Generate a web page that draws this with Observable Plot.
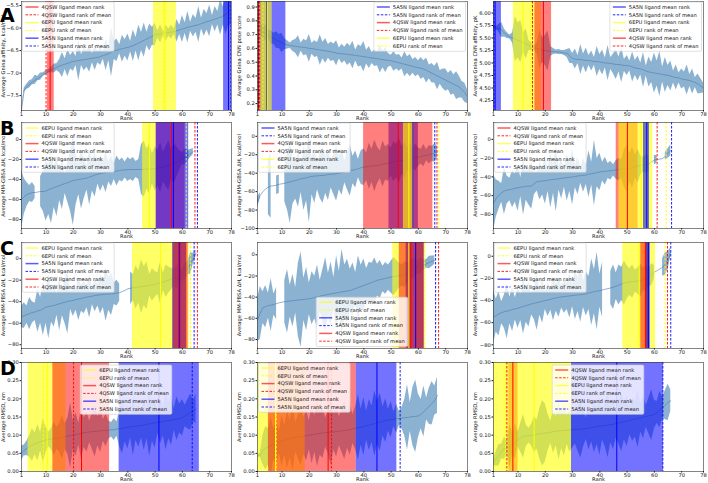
<!DOCTYPE html>
<html>
<head>
<meta charset="utf-8">
<script src="https://cdn.jsdelivr.net/npm/d3@7"></script>
<script src="https://cdn.jsdelivr.net/npm/@observablehq/plot@0.6"></script>
<style>
  body { margin: 0; background: #fff; }
  #fig { position: relative; width: 708px; height: 483px; overflow: hidden; background: #fff; }
  .panel { position: absolute; }
  #overlay { position: absolute; left: 0; top: 0; pointer-events: none; }
</style>
</head>
<body>
<div id="fig"></div>
<script>
// Rank axis shared by every panel
const ranks = d3.range(1, 79);
const rankTicks = [1, 10, 20, 30, 40, 50, 60, 70, 78];
const ligandColor = {"4QSW": "red", "6EPU": "yellow", "5A5N": "blue"};
const ligandAlpha = {"4QSW": 0.5, "6EPU": 0.6, "5A5N": 0.55};

// ---- Row A: Gnina scores ----
const meanA1 = [-7.82,-7.38,-7.30,-7.25,-7.20,-7.15,-7.12,-7.08,-7.03,-6.99,-6.96,-6.93,-6.90,-6.87,-6.84,-6.82,-6.80,-6.78,-6.76,-6.74,-6.73,-6.72,-6.71,-6.70,-6.69,-6.68,-6.67,-6.66,-6.65,-6.63,-6.61,-6.59,-6.57,-6.53,-6.50,-6.49,-6.47,-6.46,-6.44,-6.43,-6.41,-6.39,-6.36,-6.33,-6.30,-6.27,-6.24,-6.21,-6.18,-6.15,-6.14,-6.13,-6.12,-6.11,-6.10,-6.09,-6.08,-6.06,-6.04,-6.02,-6.00,-5.98,-5.97,-5.95,-5.94,-5.92,-5.90,-5.88,-5.86,-5.84,-5.82,-5.80,-5.78,-5.76,-5.73,-5.69,-5.64,-5.58];
const sdA1 = [0.02,0.05,0.06,0.08,0.06,0.10,0.05,0.08,0.04,0.05,0.04,0.06,0.10,0.08,0.15,0.28,0.12,0.30,0.15,0.22,0.10,0.45,0.12,0.25,0.18,0.30,0.10,0.28,0.12,0.20,0.08,0.35,0.15,0.55,0.20,0.25,0.10,0.30,0.18,0.30,0.12,0.35,0.15,0.40,0.20,0.38,0.15,0.30,0.20,0.25,0.08,0.20,0.05,0.18,0.08,0.15,0.06,0.25,0.10,0.30,0.12,0.35,0.10,0.25,0.15,0.40,0.12,0.30,0.18,0.35,0.10,0.28,0.15,0.40,0.20,0.45,0.30,0.35];
const meanA2 = [0.78,0.74,0.72,0.71,0.70,0.68,0.67,0.66,0.65,0.64,0.63,0.625,0.62,0.618,0.615,0.612,0.61,0.607,0.604,0.60,0.598,0.595,0.592,0.588,0.585,0.582,0.579,0.576,0.572,0.565,0.563,0.561,0.559,0.557,0.555,0.552,0.549,0.546,0.543,0.54,0.537,0.534,0.531,0.528,0.525,0.522,0.519,0.516,0.513,0.51,0.505,0.50,0.495,0.49,0.485,0.48,0.475,0.47,0.465,0.46,0.455,0.45,0.44,0.43,0.42,0.41,0.40,0.39,0.38,0.37,0.36,0.35,0.34,0.33,0.32,0.30,0.28,0.25];
const sdA2 = [0.06,0.05,0.04,0.06,0.03,0.05,0.04,0.06,0.05,0.07,0.04,0.03,0.02,0.04,0.05,0.08,0.03,0.06,0.05,0.10,0.04,0.06,0.05,0.11,0.06,0.09,0.05,0.07,0.06,0.09,0.04,0.07,0.05,0.08,0.06,0.10,0.04,0.08,0.07,0.11,0.05,0.08,0.04,0.06,0.05,0.10,0.06,0.09,0.05,0.04,0.07,0.05,0.06,0.04,0.09,0.06,0.08,0.05,0.07,0.05,0.08,0.06,0.09,0.05,0.07,0.06,0.10,0.05,0.07,0.08,0.06,0.09,0.07,0.10,0.08,0.06,0.07,0.05];
const meanA3 = [5.71,5.70,5.69,5.66,5.60,5.55,5.52,5.50,5.48,5.45,5.43,5.41,5.38,5.35,5.32,5.30,5.29,5.27,5.26,5.25,5.24,5.23,5.23,5.22,5.22,5.21,5.20,5.19,5.14,5.09,5.08,5.07,5.07,5.06,5.05,5.05,5.04,5.03,5.03,5.02,5.01,5.00,5.00,4.99,4.98,4.97,4.97,4.96,4.95,4.95,4.94,4.92,4.90,4.89,4.88,4.86,4.84,4.82,4.81,4.80,4.79,4.78,4.77,4.76,4.75,4.74,4.72,4.71,4.70,4.68,4.67,4.66,4.65,4.63,4.61,4.58,4.54,4.50];
const sdA3 = [0.05,0.03,0.08,0.15,0.08,0.06,0.04,0.10,0.45,0.35,0.42,0.20,0.30,0.10,0.08,0.05,0.10,0.38,0.25,0.30,0.40,0.10,0.06,0.04,0.05,0.04,0.05,0.08,0.15,0.10,0.20,0.08,0.30,0.12,0.25,0.10,0.20,0.08,0.30,0.15,0.25,0.10,0.35,0.12,0.20,0.30,0.15,0.35,0.12,0.20,0.10,0.30,0.15,0.25,0.12,0.35,0.10,0.30,0.20,0.40,0.25,0.45,0.15,0.35,0.20,0.30,0.12,0.25,0.10,0.20,0.15,0.30,0.12,0.25,0.10,0.20,0.15,0.10];

// ---- Row B: MM-GBSA enthalpy ----
const meanB1 = [-60,-57,-55,-54,-53,-53,-52.5,-52,-52,-51.5,-50,-49,-48,-47,-46,-45,-44,-43,-42,-41,-40.5,-40,-39.5,-39,-38.5,-37.5,-36.5,-35.5,-34.5,-34,-33.5,-33,-32.5,-32,-32,-31.5,-31,-30.5,-30.5,-30,-30,-30,-30,-30,-30,-29.8,-29.6,-29.5,-29.4,-29.2,-28.5,-28,-27.5,-27,-26,-25,-24,-22.5,-21,-19,-17.5,-16,-14,-12];
const sdB1 = [30,18,12,8,10,6,null,15,20,30,25,35,20,30,15,25,10,20,30,45,25,15,30,20,12,28,15,22,10,18,12,20,10,15,8,15,10,12,8,12,10,12,8,10,25,28,20,25,15,22,18,25,15,20,25,15,20,15,10,6,8,5,4,3];
const meanB2 = [-72,-64,-60,-57,-55,-54,-53.5,-53,-52,-51.5,-51,-50,-49.5,-48.5,-48,-47,-46,-45.5,-45,-44,-43.5,-43,-43,-42.5,-42.5,-42,-41.5,-41,-41,-40.5,-40,-39,-38.5,-38,-37,-36.5,-36,-35,-34,-33.5,-33,-32.5,-32,-32,-31.5,-31,-30,-29.5,-29,-28,-27.5,-27,-26.5,-26,-26,-25,-24.5,-24,-23,-22.7,-22,-21,-20.5,-20,-19,-18,-17];
const sdB2 = [6,3,null,null,30,35,null,10,10,null,20,30,45,25,20,30,15,35,25,50,20,30,15,25,30,20,28,15,22,30,18,25,12,20,28,15,20,10,18,20,15,25,18,28,20,15,25,18,20,15,22,18,25,15,20,12,18,10,15,10,8,12,6,10,8,10,6];
const meanB3 = [-68,-63,-59.5,-57,-55,-54,-53.5,-53,-52,-51.7,-51,-50.5,-50,-50,-49.6,-47,-45,-44.7,-44.3,-44,-43.5,-43,-42.7,-42.3,-42,-41.5,-41,-40.7,-40.3,-40,-39.5,-39,-38.7,-38.3,-38,-37,-36.5,-36,-35.5,-34.7,-34.3,-34,-33.7,-33.3,-33,-32.5,-32,-31.8,-31.4,-31,-30.5,-30,-29,-28.5,-27.6,-27,-26.5,-26,-24,-22,-21.5,-21,-20.5,-18,-15,-11.7];
const sdB3 = [30,20,15,10,25,15,12,20,15,25,10,30,15,20,25,12,10,20,15,25,12,30,15,35,12,22,10,25,15,30,12,20,8,18,10,25,12,35,15,20,10,15,8,10,6,10,12,10,20,25,15,22,12,18,10,8,10,8,null,5,4,null,null,4,5,6];

// ---- Row C: MM-PBSA enthalpy ----
const meanC1 = [-54,-53,-52,-51,-50,-49.5,-48.5,-48,-46.5,-45,-44.5,-44,-43.5,-42.5,-42,-41,-40.5,-39.7,-39.3,-38.8,-38,-37.5,-37,-36.3,-35.7,-35.2,-34.8,-34.3,-34,-33.5,-33.3,-33.1,-32.9,-32.8,-32.6,-32,-31.6,-30.5,-29.5,-28,-27.5,-27,-26.7,-26.3,-26,-25.6,-25.2,-24.8,-24.4,-24,-23.2,-22.4,-21.6,-20.8,-20,-19,-18,-17,-16,-15,-12,-9,-4.6,0,5];
const sdC1 = [10,12,8,15,10,8,20,12,25,15,30,15,20,10,25,12,20,30,8,15,10,20,12,15,10,20,8,15,10,18,12,25,15,20,10,12,8,null,null,null,15,12,20,15,25,18,22,10,15,12,10,20,8,15,12,10,8,12,6,5,8,6,10,5,3];
const meanC2 = [-62,-55,-50,-49,-48,-47.5,-47,-46,-45.3,-44.7,-44.3,-44,-43.7,-43.3,-43,-42.7,-42.4,-42.1,-41.8,-41.6,-41,-40.3,-39.7,-39,-38.4,-37.9,-37.4,-36.9,-36.4,-36,-35.5,-35,-34.6,-34.1,-33.7,-32.7,-31.8,-30.8,-29.9,-29,-28,-27,-26,-25,-24,-23.4,-22.8,-22.2,-21.6,-21,-20.6,-20.2,-19.8,-19.4,-19,-17,-15,-13,-12.3,-11.7,-10.6,-9.5,-8.5,-7.3,-6.2,-5];
const sdC2 = [20,25,15,20,12,25,10,15,null,null,20,30,15,25,12,35,45,20,30,15,25,20,30,15,25,35,20,30,15,35,20,40,25,30,20,25,15,30,20,25,15,20,18,22,15,18,12,15,12,15,18,15,12,10,12,10,8,10,8,6,8,5,4,6,5,4];
const meanC3 = [-55,-53.5,-52,-51,-50,-49.5,-49,-48,-47.5,-47,-46,-45.3,-44.5,-43.8,-43,-42.4,-41.8,-41.2,-40.6,-40,-39.4,-38.8,-38.2,-37.6,-37,-36.7,-36.4,-36.1,-35.8,-35.5,-35.2,-34.9,-34.6,-34.3,-34,-33.2,-32.5,-32,-31.5,-31,-30.4,-29.8,-29.2,-28.6,-28,-27,-26,-25,-24.2,-23.5,-23.2,-22.9,-22.6,-22.3,-22,-21,-20,-19,-16.7,-14.4,-13,-11.5,-10,-7,-4,3.6];
const sdC3 = [25,15,20,10,15,25,12,20,10,18,12,25,15,20,10,15,25,12,20,8,15,10,20,12,18,10,15,12,20,10,22,15,25,12,20,15,30,20,35,15,25,null,null,15,20,12,18,15,20,15,12,15,10,12,15,10,12,8,10,6,null,null,8,10,8,4];

// ---- Row D: RMSD ----
const meanD1 = [0.050,0.058,0.064,0.069,0.073,0.076,0.079,0.082,0.085,0.087,0.088,0.089,0.090,0.091,0.092,0.094,0.096,0.097,0.099,0.100,0.102,0.103,0.105,0.107,0.108,0.109,0.110,0.110,0.111,0.112,0.113,0.113,0.114,0.115,0.115,0.117,0.118,0.119,0.121,0.122,0.123,0.124,0.125,0.126,0.127,0.128,0.130,0.131,0.133,0.134,0.135,0.136,0.138,0.139,0.140,0.142,0.143,0.145,0.146,0.148,0.153,0.158,0.163,0.167,0.172];
const sdD1 = [0.020,0.015,0.020,0.030,0.045,0.030,0.050,0.025,0.060,0.035,0.020,0.030,0.045,0.030,0.040,0.060,0.035,0.050,0.090,0.040,0.060,0.030,0.070,0.040,0.055,0.030,0.050,0.070,0.040,0.060,0.030,0.045,0.025,0.020,0.030,0.020,0.050,0.070,0.040,0.060,0.030,0.080,0.040,0.060,0.035,0.070,0.040,0.090,0.050,0.070,0.030,0.060,0.040,0.080,0.050,0.070,0.030,0.060,0.040,0.050,0.030,0.040,0.050,0.030,0.040];
const meanD2 = [0.043,0.045,0.059,0.064,0.068,0.071,0.075,0.078,0.081,0.084,0.086,0.088,0.090,0.092,0.094,0.095,0.096,0.098,0.099,0.100,0.101,0.103,0.104,0.105,0.106,0.107,0.108,0.108,0.109,0.110,0.111,0.112,0.113,0.114,0.115,0.117,0.119,0.121,0.122,0.124,0.126,0.128,0.130,0.132,0.134,0.136,0.138,0.140,0.141,0.143,0.144,0.145,0.146,0.147,0.148,0.149,0.150,0.151,0.152,0.153,0.158,0.165,0.172,0.180,0.188,0.195,0.210];
const sdD2 = [0.005,0.005,0.040,0.060,0.050,0.080,0.040,0.060,0.030,0.070,0.040,0.080,0.050,0.090,0.040,0.060,0.080,0.050,0.070,0.040,0.080,0.050,0.090,0.060,0.070,0.040,0.060,0.090,0.050,0.070,0.040,0.060,0.080,0.050,0.070,0.040,0.060,0.090,0.050,0.080,0.040,0.070,0.050,0.090,0.060,0.080,0.040,0.060,0.030,0.050,0.020,0.040,0.020,0.030,0.050,0.090,0.040,0.080,0.100,0.060,0.040,0.070,0.030,0.050,0.060,0.040,0.050];
const meanD3 = [0.026,0.035,0.045,0.055,0.064,0.066,0.068,0.076,0.083,0.088,0.093,0.097,0.098,0.099,0.100,0.101,0.102,0.104,0.105,0.106,0.107,0.108,0.110,0.111,0.112,0.113,0.113,0.114,0.114,0.115,0.116,0.116,0.117,0.117,0.118,0.119,0.121,0.122,0.124,0.125,0.126,0.127,0.128,0.129,0.130,0.132,0.134,0.135,0.137,0.139,0.141,0.143,0.144,0.146,0.148,0.150,0.152,0.153,0.155,0.157,0.163,0.170,0.176,0.183,0.190,0.195];
const sdD3 = [0.010,0.020,0.030,0.020,0.030,0.020,0.060,0.030,0.050,0.020,0.040,0.060,0.030,0.020,0.030,0.050,0.040,0.070,0.090,0.080,0.050,0.030,0.060,0.040,0.080,0.050,0.070,0.040,0.060,0.050,0.040,0.060,0.080,0.050,0.030,0.060,0.040,0.070,0.050,0.080,0.040,0.060,0.090,0.050,0.070,0.040,0.060,0.080,0.050,0.070,0.040,0.060,0.050,0.080,0.040,0.060,0.030,0.050,0.070,0.040,0.030,0.050,0.030,0.040,0.050,0.030];

// Ligand rank windows: span = mean rank ± spread, plus mean rank and rank of mean
const ligA1 = [
  {ligand: "4QSW", lo: 10.5, hi: 13.0, meanRank: 11.5, rankOfMean: 10.0},
  {ligand: "6EPU", lo: 49.4, hi: 57.8, meanRank: 53.6, rankOfMean: 53.0},
  {ligand: "5A5N", lo: 75.1, hi: 78.6, meanRank: 76.9, rankOfMean: 77.8}];
const ligA2 = [
  {ligand: "5A5N", lo: -2.6, hi: 11.4, meanRank: 4.4, rankOfMean: 1.3},
  {ligand: "4QSW", lo: 0.5, hi: 2.3, meanRank: 1.4, rankOfMean: 1.8},
  {ligand: "6EPU", lo: 1.0, hi: 6.4, meanRank: 4.6, rankOfMean: 3.0}];
const ligA3 = [
  {ligand: "5A5N", lo: -0.5, hi: 3.9, meanRank: 1.6, rankOfMean: 1.2},
  {ligand: "6EPU", lo: 8.3, hi: 18.6, meanRank: 11.8, rankOfMean: 14.9},
  {ligand: "4QSW", lo: 16.2, hi: 22.3, meanRank: 19.3, rankOfMean: 15.3}];
const ligB1 = [
  {ligand: "6EPU", lo: 45.4, hi: 50.4, meanRank: 47.9, rankOfMean: 61.4},
  {ligand: "4QSW", lo: 50.4, hi: 61.0, meanRank: 56.0, rankOfMean: 64.6},
  {ligand: "5A5N", lo: 50.4, hi: 62.3, meanRank: 56.7, rankOfMean: 65.5}];
const ligB2 = [
  {ligand: "5A5N", lo: 49.2, hi: 60.0, meanRank: 58.0, rankOfMean: 66.0},
  {ligand: "4QSW", lo: 39.9, hi: 65.3, meanRank: 52.6, rankOfMean: 66.8},
  {ligand: "6EPU", lo: 54.5, hi: 58.4, meanRank: 56.5, rankOfMean: 67.5}];
const ligB3 = [
  {ligand: "4QSW", lo: 46.0, hi: 54.0, meanRank: 50.1, rankOfMean: 61.0},
  {ligand: "6EPU", lo: 47.0, hi: 59.4, meanRank: 55.2, rankOfMean: 64.3},
  {ligand: "5A5N", lo: 56.0, hi: 58.2, meanRank: 57.2, rankOfMean: 66.3}];
const ligC1 = [
  {ligand: "6EPU", lo: 41.7, hi: 62.5, meanRank: 52.0, rankOfMean: 63.0},
  {ligand: "5A5N", lo: 56.4, hi: 61.5, meanRank: 59.0, rankOfMean: 64.3},
  {ligand: "4QSW", lo: 56.7, hi: 62.1, meanRank: 58.6, rankOfMean: 65.5}];
const ligC2 = [
  {ligand: "6EPU", lo: 50.6, hi: 62.5, meanRank: 56.5, rankOfMean: 62.3},
  {ligand: "5A5N", lo: 55.5, hi: 62.1, meanRank: 59.0, rankOfMean: 66.3},
  {ligand: "4QSW", lo: 53.0, hi: 62.1, meanRank: 57.2, rankOfMean: 67.4}];
const ligC3 = [
  {ligand: "6EPU", lo: 48.4, hi: 60.4, meanRank: 54.4, rankOfMean: 63.9},
  {ligand: "4QSW", lo: 55.0, hi: 58.2, meanRank: 56.7, rankOfMean: 64.8},
  {ligand: "5A5N", lo: 57.0, hi: 58.5, meanRank: 57.8, rankOfMean: 66.0}];
const ligD1 = [
  {ligand: "6EPU", lo: 3.4, hi: 17.3, meanRank: 10.4, rankOfMean: 9.0},
  {ligand: "4QSW", lo: 12.5, hi: 33.3, meanRank: 23.0, rankOfMean: 20.1},
  {ligand: "5A5N", lo: 36.8, hi: 66.2, meanRank: 51.4, rankOfMean: 63.6}];
const ligD2 = [
  {ligand: "6EPU", lo: -1.0, hi: 18.5, meanRank: 7.6, rankOfMean: 7.9},
  {ligand: "4QSW", lo: 5.0, hi: 37.2, meanRank: 26.9, rankOfMean: 28.1},
  {ligand: "5A5N", lo: 37.2, hi: 52.1, meanRank: 44.8, rankOfMean: 53.3}];
const ligD3 = [
  {ligand: "4QSW", lo: 6.6, hi: 10.0, meanRank: 8.1, rankOfMean: 5.9},
  {ligand: "6EPU", lo: -0.5, hi: 29.6, meanRank: 15.9, rankOfMean: 5.4},
  {ligand: "5A5N", lo: 29.6, hi: 63.3, meanRank: 46.2, rankOfMean: 63.1}];

// Axis labels and ticks
const labelA = ["Average Gnina affinity, kcal/mol", "Average Gnina CNN pose score", "Average Gnina CNN affinity, pK"];
const labelB = "Average MM-GBSA ΔH, kcal/mol";
const labelC = "Average MM-PBSA ΔH, kcal/mol";
const labelD = "Average RMSD, nm";
const ticksA1 = [-7.5, -7.0, -6.5, -6.0, -5.5];
const ticksA2 = [0.2, 0.3, 0.4, 0.5, 0.6, 0.7, 0.8, 0.9];
const ticksA3 = [4.25, 4.5, 4.75, 5.0, 5.25, 5.5, 5.75, 6.0];
const ticksB2 = [-100, -80, -60, -40, -20, 0];
const ticksEnergy = [-80, -60, -40, -20, 0];
const ticksRmsd = [0, 0.05, 0.10, 0.15, 0.20, 0.25, 0.30];

// Row geometry: plot-area top and bottom in page pixels
const rowBox = [[1, 110], [122, 228], [242, 348], [362, 471]];
const rowLetters = ["A", "B", "C", "D"];

const panels = [
  {row: 0, col: 0, mean: meanA1, sd: sdA1, lig: ligA1, label: labelA[0], domain: [-7.83, -5.41], ticks: ticksA1, fmt: ".1f", legend: "ul"},
  {row: 0, col: 1, mean: meanA2, sd: sdA2, lig: ligA2, label: labelA[1], domain: [0.15, 0.94], ticks: ticksA2, fmt: ".1f", legend: "ur"},
  {row: 0, col: 2, mean: meanA3, sd: sdA3, lig: ligA3, label: labelA[2], domain: [4.05, 6.23], ticks: ticksA3, fmt: ".2f", legend: "ur"},
  {row: 1, col: 0, mean: meanB1, sd: sdB1, lig: ligB1, label: labelB, domain: [-89, 17], ticks: ticksEnergy, fmt: "d", legend: "ul"},
  {row: 1, col: 1, mean: meanB2, sd: sdB2, lig: ligB2, label: labelB, domain: [-100, 15], ticks: ticksB2, fmt: "d", legend: "ul"},
  {row: 1, col: 2, mean: meanB3, sd: sdB3, lig: ligB3, label: labelB, domain: [-95, 18], ticks: ticksEnergy, fmt: "d", legend: "ul"},
  {row: 2, col: 0, mean: meanC1, sd: sdC1, lig: ligC1, label: labelC, domain: [-83.5, 15], ticks: ticksEnergy, fmt: "d", legend: "ul"},
  {row: 2, col: 1, mean: meanC2, sd: sdC2, lig: ligC2, label: labelC, domain: [-88.5, 11.6], ticks: ticksEnergy, fmt: "d", legend: "lc"},
  {row: 2, col: 2, mean: meanC3, sd: sdC3, lig: ligC3, label: labelC, domain: [-83.3, 12.4], ticks: ticksEnergy, fmt: "d", legend: "ul"},
  {row: 3, col: 0, mean: meanD1, sd: sdD1, lig: ligD1, label: labelD, domain: [0, 0.3], ticks: ticksRmsd, fmt: ".2f", legend: "uc"},
  {row: 3, col: 1, mean: meanD2, sd: sdD2, lig: ligD2, label: labelD, domain: [0, 0.3], ticks: ticksRmsd, fmt: ".2f", legend: "ul"},
  {row: 3, col: 2, mean: meanD3, sd: sdD3, lig: ligD3, label: labelD, domain: [0, 0.3], ticks: ticksRmsd, fmt: ".2f", legend: "uc"}
];

const fig = document.getElementById("fig");
const FONT = "DejaVu Sans, sans-serif";
const PW = 236, ML = 21, MR = 5, MT = 2, MB = 12;

for (const p of panels) {
  const [top, bottom] = rowBox[p.row];
  const rows = ranks.map((r, i) => {
    const m = p.mean[i] ?? null, s = p.sd[i] ?? null;
    return {rank: r, mean: m, lo: m == null || s == null ? null : m - s, hi: m == null || s == null ? null : m + s};
  });
  const spans = p.lig.map(d => ({...d, color: ligandColor[d.ligand], alpha: ligandAlpha[d.ligand]}));
  const chart = Plot.plot({
    width: PW,
    height: bottom - top + MT + MB,
    marginLeft: ML, marginRight: MR, marginTop: MT, marginBottom: MB,
    style: {fontFamily: FONT, fontSize: "5.2px", color: "#111", background: "transparent"},
    x: {domain: [1, 78], ticks: rankTicks, tickSize: 1.5, tickPadding: 0.3, label: "Rank", labelAnchor: "center", labelOffset: 9.8, labelArrow: "none"},
    y: {domain: p.domain, ticks: p.ticks, tickFormat: d3.format(p.fmt), tickSize: 1.5, tickPadding: 1.2, label: p.label, labelAnchor: "center", labelOffset: 20, labelArrow: "none"},
    marks: [
      Plot.areaY(rows, {x: "rank", y1: "lo", y2: "hi", fill: "#4682b4", fillOpacity: 0.62, clip: true}),
      Plot.lineY(rows, {x: "rank", y: "mean", stroke: "#4a7bb0", strokeWidth: 0.6, clip: true}),
      Plot.rect(spans, {x1: "lo", x2: "hi", fill: "color", fillOpacity: "alpha", clip: true}),
      Plot.ruleX(spans, {x: "meanRank", stroke: "color", strokeWidth: 1, clip: true}),
      Plot.ruleX(spans, {x: "rankOfMean", stroke: "color", strokeWidth: 0.9, strokeDasharray: "2.5,1.5", clip: true}),
      Plot.frame({stroke: "#333", strokeWidth: 0.6})
    ]
  });
  chart.classList.add("panel");
  chart.style.left = (p.col * PW) + "px";
  chart.style.top = (top - MT) + "px";
  fig.appendChild(chart);
}

// Legends and panel letters on a shared overlay
const overlay = d3.select(fig).append("svg")
  .attr("id", "overlay").attr("width", 708).attr("height", 483)
  .style("font-family", FONT);

const legendText = (lig, kind) => kind === "mean"
  ? `${lig} ligand mean rank`
  : (lig === "6EPU" ? `${lig} rank of mean` : `${lig} ligand rank of mean`);

for (const p of panels) {
  const [top, bottom] = rowBox[p.row];
  const left = p.col * PW + ML, right = p.col * PW + PW - MR;
  const entries = p.lig.flatMap(d => [
    {ligand: d.ligand, kind: "mean"},
    {ligand: d.ligand, kind: "rom"}
  ]);
  const g = overlay.append("g");
  const box = g.append("rect").attr("rx", 1.5).attr("fill", "#fff").attr("fill-opacity", 0.8)
    .attr("stroke", "#ccc").attr("stroke-width", 0.6);
  const step = 7.8;
  let maxW = 0;
  entries.forEach((e, i) => {
    const cy = 5 + i * step;
    g.append("line").attr("x1", 3).attr("x2", 16).attr("y1", cy).attr("y2", cy)
      .attr("stroke", ligandColor[e.ligand])
      .attr("stroke-width", e.kind === "mean" ? 1.5 : 1)
      .attr("stroke-opacity", e.kind === "mean" ? 0.65 : 0.85)
      .attr("stroke-dasharray", e.kind === "mean" ? null : "2.5,1.5");
    const t = g.append("text").attr("x", 19).attr("y", cy).attr("dy", "0.35em")
      .attr("font-size", 5.2).attr("fill", "#111").text(legendText(e.ligand, e.kind));
    maxW = Math.max(maxW, t.node().getComputedTextLength());
  });
  const w = 19 + maxW + 3, h = entries.length * step + 2.5;
  box.attr("width", w).attr("height", h);
  let x, y;
  if (p.legend === "ul") { x = left + 1.5; y = top + 1; }
  else if (p.legend === "ur") { x = right - 1.5 - w; y = top + 1; }
  else if (p.legend === "uc") { x = left + (right - left - w) / 2; y = top + 3; }
  else { x = left + (right - left - w) / 2; y = bottom - 1.5 - h; }
  g.attr("transform", `translate(${x},${y})`);
}

rowBox.forEach(([top], i) => {
  overlay.append("text").attr("x", 0).attr("y", top + (i === 0 ? 21 : 13))
    .attr("font-size", 19).attr("font-weight", "bold").attr("fill", "#000")
    .text(rowLetters[i]);
});
</script>
</body>
</html>
